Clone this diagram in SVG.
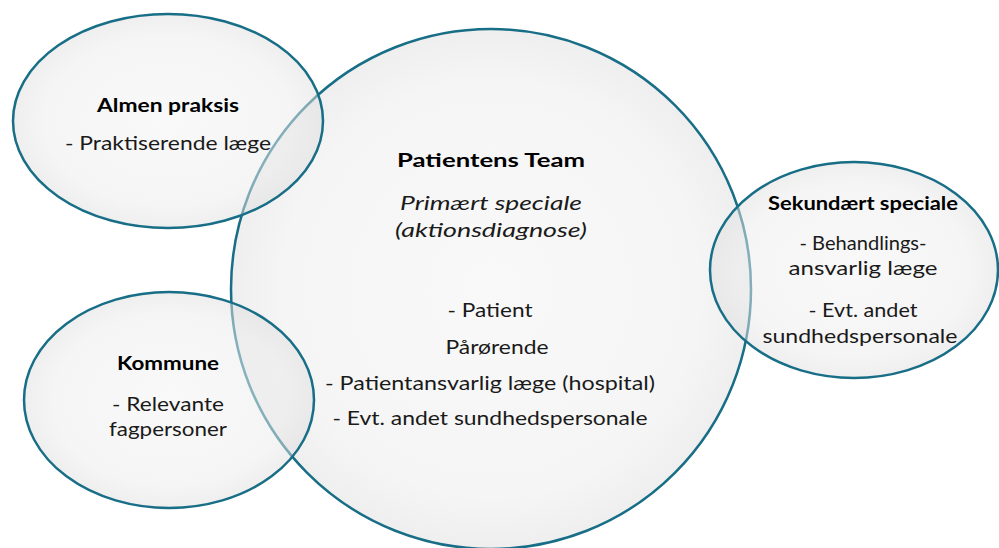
<svg xmlns="http://www.w3.org/2000/svg" width="999" height="548" viewBox="0 0 999 548">
<defs>
<radialGradient id="fillGrad" cx="50%" cy="50%" r="50%">
<stop offset="0" stop-color="#f5f5f5" stop-opacity="0.6"/>
<stop offset="0.8" stop-color="#ebebeb" stop-opacity="0.5"/>
<stop offset="1" stop-color="#dedede" stop-opacity="0.5"/>
</radialGradient>
<style>
.shape{fill:url(#fillGrad);stroke:#176e86;stroke-width:2.5}
.t{font-family:Lato,"Liberation Sans",sans-serif;font-size:19px;fill:#1a1a1a;text-anchor:middle}
.b{font-weight:bold;fill:#000}
.i{font-style:italic}
</style>
</defs>
<rect width="999" height="548" fill="#ffffff"/>
<g id="patientens-team">
<circle class="shape" cx="491" cy="289" r="260"/>
<text class="t b" x="491" y="167" textLength="188" lengthAdjust="spacingAndGlyphs">Patientens Team</text>
<text class="t i" x="491" y="210" textLength="182" lengthAdjust="spacingAndGlyphs">Primært speciale</text>
<text class="t i" x="491" y="237" textLength="192" lengthAdjust="spacingAndGlyphs">(aktionsdiagnose)</text>
<text class="t" x="490" y="317" textLength="85" lengthAdjust="spacingAndGlyphs">- Patient</text>
<text class="t" x="497" y="354" textLength="103" lengthAdjust="spacingAndGlyphs">Pårørende</text>
<text class="t" x="490" y="390" textLength="330" lengthAdjust="spacingAndGlyphs">- Patientansvarlig læge (hospital)</text>
<text class="t" x="490" y="425" textLength="315" lengthAdjust="spacingAndGlyphs">- Evt. andet sundhedspersonale</text>
</g>
<g id="almen-praksis">
<ellipse class="shape" cx="168" cy="121" rx="155" ry="107"/>
<text class="t b" x="168" y="112" textLength="142" lengthAdjust="spacingAndGlyphs">Almen praksis</text>
<text class="t" x="168" y="150" textLength="206" lengthAdjust="spacingAndGlyphs">- Praktiserende læge</text>
</g>
<g id="kommune">
<ellipse class="shape" cx="169" cy="400" rx="145" ry="108"/>
<text class="t b" x="168" y="370" textLength="102" lengthAdjust="spacingAndGlyphs">Kommune</text>
<text class="t" x="168" y="411" textLength="112" lengthAdjust="spacingAndGlyphs">- Relevante</text>
<text class="t" x="168" y="436" textLength="118" lengthAdjust="spacingAndGlyphs">fagpersoner</text>
</g>
<g id="sekundaert-speciale">
<ellipse class="shape" cx="854" cy="270" rx="144" ry="108"/>
<text class="t b" x="863" y="210" textLength="190" lengthAdjust="spacingAndGlyphs">Sekundært speciale</text>
<text class="t" x="863" y="250" textLength="127" lengthAdjust="spacingAndGlyphs">- Behandlings-</text>
<text class="t" x="863" y="275" textLength="149" lengthAdjust="spacingAndGlyphs">ansvarlig læge</text>
<text class="t" x="863" y="317" textLength="109" lengthAdjust="spacingAndGlyphs">- Evt. andet</text>
<text class="t" x="860" y="343" textLength="195" lengthAdjust="spacingAndGlyphs">sundhedspersonale</text>
</g>
</svg>
